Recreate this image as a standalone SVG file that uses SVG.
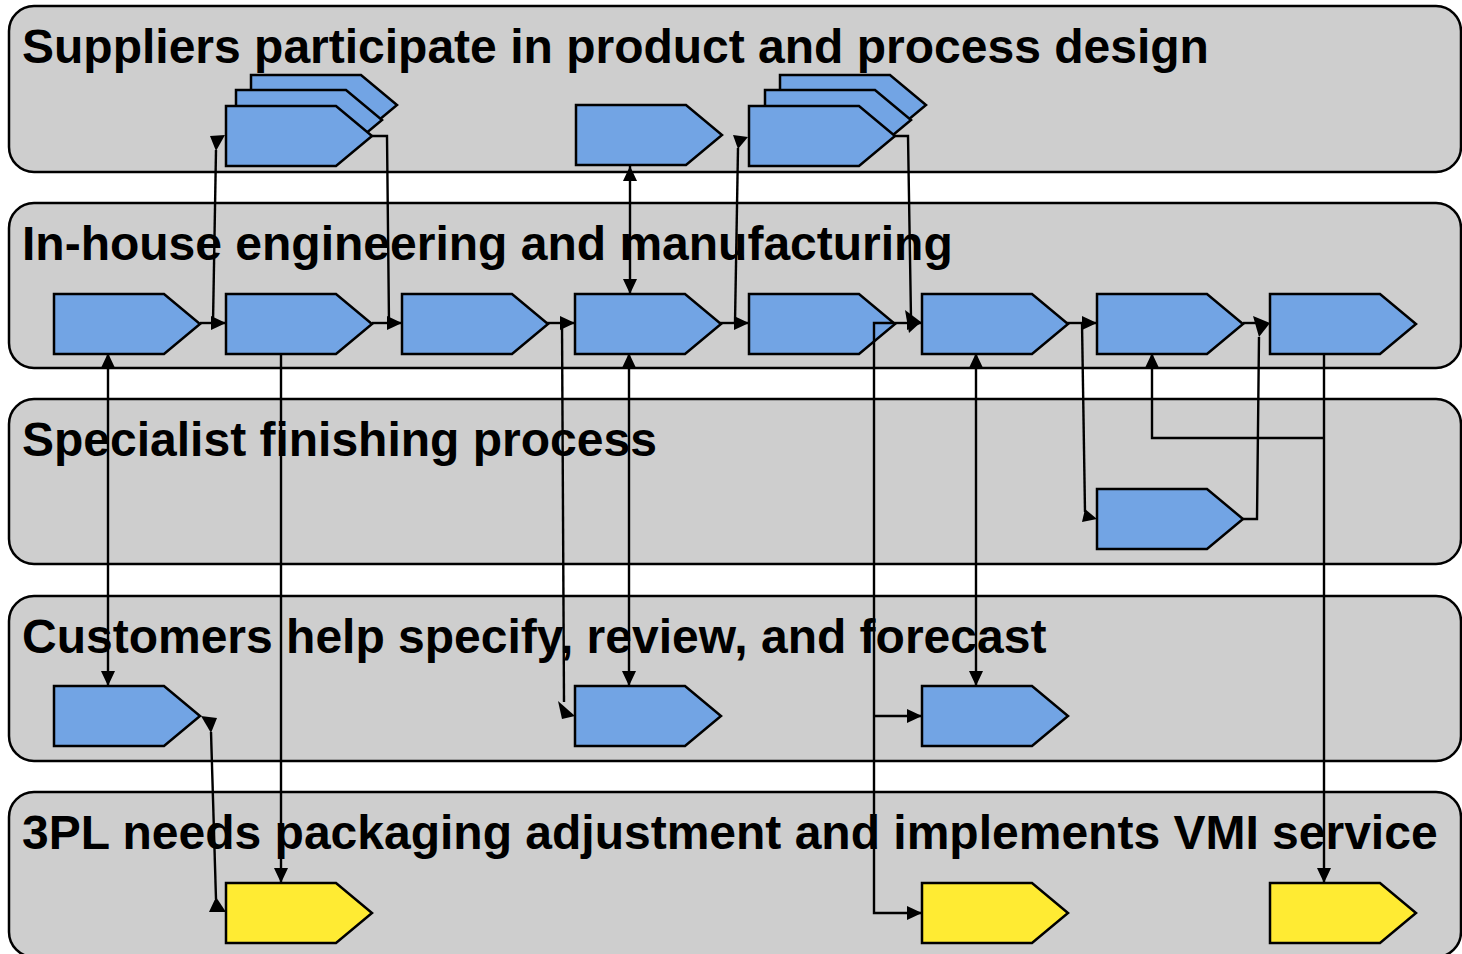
<svg xmlns="http://www.w3.org/2000/svg" xmlns:xlink="http://www.w3.org/1999/xlink" width="1462" height="954" viewBox="0 0 1462 954">
<style>
.lane{fill:#cecece;stroke:#000;stroke-width:2.5}
.title{font-family:"Liberation Sans",Arial,sans-serif;font-weight:bold;font-size:48px;fill:#000}
.blue{fill:#72a4e4;stroke:#000;stroke-width:2.5}
.yellow{fill:#ffeb33;stroke:#000;stroke-width:2.5}
.c{fill:none;stroke:#000;stroke-width:2.4}
.ah{fill:#000;stroke:none}
</style>
<defs>
<path id="chev" d="M0,0 H110 L146,30 L110,60 H0 Z"/>
<marker id="arr" markerUnits="userSpaceOnUse" markerWidth="15" markerHeight="14" refX="15" refY="7" orient="auto-start-reverse" viewBox="0 0 15 14">
<path d="M0,0 L15,7 L0,14 Z" fill="#000"/>
</marker>
</defs>
<g id="lanes">
<g id="lane1"><rect class="lane" x="9" y="6" width="1452" height="166" rx="25"/><text class="title" x="22" y="63">Suppliers participate in product and process design</text></g>
<g id="lane2"><rect class="lane" x="9" y="203" width="1452" height="165" rx="25"/><text class="title" x="22" y="260">In-house engineering and manufacturing</text></g>
<g id="lane3"><rect class="lane" x="9" y="399" width="1452" height="165" rx="25"/><text class="title" x="22" y="456">Specialist finishing process</text></g>
<g id="lane4"><rect class="lane" x="9" y="596" width="1452" height="165" rx="25"/><text class="title" x="22" y="653">Customers help specify, review, and forecast</text></g>
<g id="lane5"><rect class="lane" x="9" y="792" width="1452" height="165" rx="25"/><text class="title" x="22" y="849">3PL needs packaging adjustment and implements VMI service</text></g>
</g>
<g id="nodes">
<g id="sup1"><use xlink:href="#chev" class="blue" x="251" y="75"/><use xlink:href="#chev" class="blue" x="236" y="90"/><use xlink:href="#chev" class="blue" x="226" y="106"/></g>
<g id="sup2"><use xlink:href="#chev" class="blue" x="576" y="105"/></g>
<g id="sup3"><use xlink:href="#chev" class="blue" x="780" y="75"/><use xlink:href="#chev" class="blue" x="765" y="90"/><use xlink:href="#chev" class="blue" x="749" y="106"/></g>
<g id="in1"><use xlink:href="#chev" class="blue" x="54" y="294"/></g>
<g id="in2"><use xlink:href="#chev" class="blue" x="226" y="294"/></g>
<g id="in3"><use xlink:href="#chev" class="blue" x="402" y="294"/></g>
<g id="in4"><use xlink:href="#chev" class="blue" x="575" y="294"/></g>
<g id="in5"><use xlink:href="#chev" class="blue" x="749" y="294"/></g>
<g id="in6"><use xlink:href="#chev" class="blue" x="922" y="294"/></g>
<g id="in7"><use xlink:href="#chev" class="blue" x="1097" y="294"/></g>
<g id="in8"><use xlink:href="#chev" class="blue" x="1270" y="294"/></g>
<g id="fin1"><use xlink:href="#chev" class="blue" x="1097" y="489"/></g>
<g id="cus1"><use xlink:href="#chev" class="blue" x="54" y="686"/></g>
<g id="cus2"><use xlink:href="#chev" class="blue" x="575" y="686"/></g>
<g id="cus3"><use xlink:href="#chev" class="blue" x="922" y="686"/></g>
<g id="tpl1"><use xlink:href="#chev" class="yellow" x="226" y="883"/></g>
<g id="tpl2"><use xlink:href="#chev" class="yellow" x="922" y="883"/></g>
<g id="tpl3"><use xlink:href="#chev" class="yellow" x="1270" y="883"/></g>
</g>
<g id="connectors">
<path class="c" d="M108,353 V686" marker-start="url(#arr)" marker-end="url(#arr)"/>
<path class="c" d="M200,323 H226" marker-end="url(#arr)"/>
<path class="c" d="M213,323 L216,150"/>
<polygon class="ah" points="210,136 225,135 216,151"/>
<path class="c" d="M281,353 V883" marker-end="url(#arr)"/>
<path class="c" d="M372,323 H402" marker-end="url(#arr)"/>
<path class="c" d="M372,136 H387 L389,323"/>
<path class="c" d="M211,732 L216,899"/>
<polygon class="ah" points="201,716 217,718 211,733"/>
<polygon class="ah" points="216,897 209,912 226,912"/>
<path class="c" d="M547,323 H575" marker-end="url(#arr)"/>
<path class="c" d="M562,323 L564,702"/>
<polygon class="ah" points="558,701 575,716 562,719"/>
<path class="c" d="M630,166 V294" marker-start="url(#arr)" marker-end="url(#arr)"/>
<path class="c" d="M629,353 V686" marker-start="url(#arr)" marker-end="url(#arr)"/>
<path class="c" d="M720,323 H749" marker-end="url(#arr)"/>
<path class="c" d="M735,323 L738,148"/>
<polygon class="ah" points="733,135 748,137 738,149"/>
<path class="c" d="M894,323 H922" marker-end="url(#arr)"/>
<path class="c" d="M894,136 H908 L911,318"/>
<polygon class="ah" points="905,310 921,322 909,333"/>
<path class="c" d="M894,323 H874 V913 H922" marker-end="url(#arr)"/>
<path class="c" d="M874,716 H922" marker-end="url(#arr)"/>
<path class="c" d="M976,353 V686" marker-start="url(#arr)" marker-end="url(#arr)"/>
<path class="c" d="M1067,323 H1097" marker-end="url(#arr)"/>
<path class="c" d="M1082,323 L1085,512"/>
<polygon class="ah" points="1085,509 1097,519 1082,522"/>
<path class="c" d="M1243,323 H1258"/>
<path class="c" d="M1243,519 H1257 L1259,337"/>
<polygon class="ah" points="1253,316 1270,323 1259,337"/>
<path class="c" d="M1324,353 V883" marker-end="url(#arr)"/>
<path class="c" d="M1324,438 H1152 V353" marker-end="url(#arr)"/>
</g>
</svg>
